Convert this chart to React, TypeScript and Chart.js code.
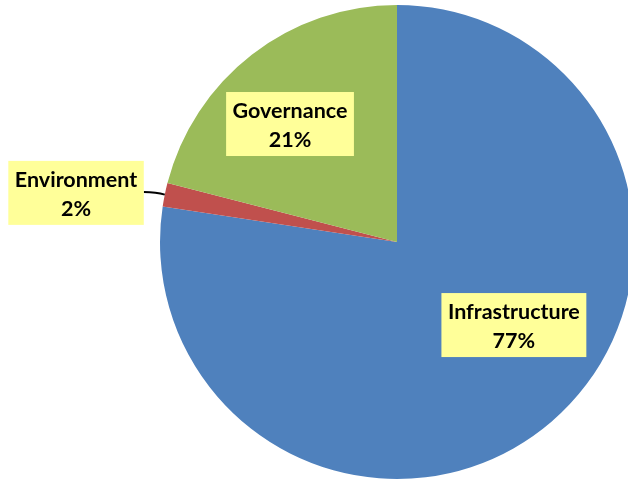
import React, { useEffect, useRef } from "react";
import { Chart, registerables } from "chart.js";

Chart.register(...registerables);

const categories = ["Infrastructure", "Environment", "Governance"];
const values = [77.4, 1.6, 21.0];
const colors = ["#4F81BD", "#C0504D", "#9BBB59"];
// label placement: angle (deg, canvas) and distance as fraction of radius
const labelAngles = [35.4, -171.3, -132.2];
const labelDists = [0.605, 1.37, 0.672];

const labelPlugin = {
  id: "boxLabels",
  afterDatasetsDraw(chart: any) {
    const ctx = chart.ctx;
    const meta = chart.getDatasetMeta(0);
    const total = values.reduce((a, b) => a + b, 0);
    ctx.save();
    ctx.font = "bold 21.5px Lato, 'Open Sans', sans-serif";
    ctx.textAlign = "center";
    ctx.textBaseline = "middle";
    meta.data.forEach((arc: any, i: number) => {
      const { x, y, outerRadius, startAngle, endAngle } = arc.getProps(
        ["x", "y", "outerRadius", "startAngle", "endAngle"],
        true
      );
      const a = (labelAngles[i] * Math.PI) / 180;
      const cx = x + Math.cos(a) * outerRadius * labelDists[i];
      const cy = y + Math.sin(a) * outerRadius * labelDists[i];
      const pct = Math.round((values[i] / total) * 100) + "%";
      const w = Math.max(ctx.measureText(categories[i]).width, ctx.measureText(pct).width) + 13;
      const h = 64;
      if (labelDists[i] > 1) {
        const mid = (startAngle + endAngle) / 2;
        const ex = x + Math.cos(mid) * outerRadius;
        const ey = y + Math.sin(mid) * outerRadius;
        const sx = cx + w / 2;
        const sy = cy - 1;
        ctx.strokeStyle = "#000";
        ctx.lineWidth = 2;
        ctx.beginPath();
        ctx.moveTo(sx, sy);
        ctx.quadraticCurveTo(sx + (ex - sx) * 0.6, sy, ex, ey);
        ctx.stroke();
      }
      ctx.fillStyle = "#FFFF99";
      ctx.fillRect(cx - w / 2, cy - h / 2, w, h);
      ctx.fillStyle = "#000";
      ctx.fillText(categories[i], cx, cy - 13);
      ctx.fillText(pct, cx, cy + 16);
    });
    ctx.restore();
  },
};

export default function App() {
  const ref = useRef<HTMLCanvasElement>(null);
  useEffect(() => {
    document.body.style.margin = "0";
    const chart = new Chart(ref.current!, {
      type: "pie",
      data: {
        labels: categories,
        datasets: [
          {
            data: values,
            backgroundColor: colors,
            borderWidth: 0,
          },
        ],
      },
      options: {
        animation: false,
        responsive: false,
        devicePixelRatio: 1,
        layout: { padding: { top: 5, bottom: 2, left: 0, right: 0 } },
        plugins: { legend: { display: false }, tooltip: { enabled: false } },
      },
      plugins: [labelPlugin],
    });
    return () => chart.destroy();
  }, []);
  return (
    <div
      style={{
        position: "fixed",
        left: 0,
        top: 0,
        width: 628,
        height: 481,
        overflow: "hidden",
        background: "#fff",
      }}
    >
      <canvas ref={ref} width={794} height={481} style={{ display: "block" }} />
    </div>
  );
}
